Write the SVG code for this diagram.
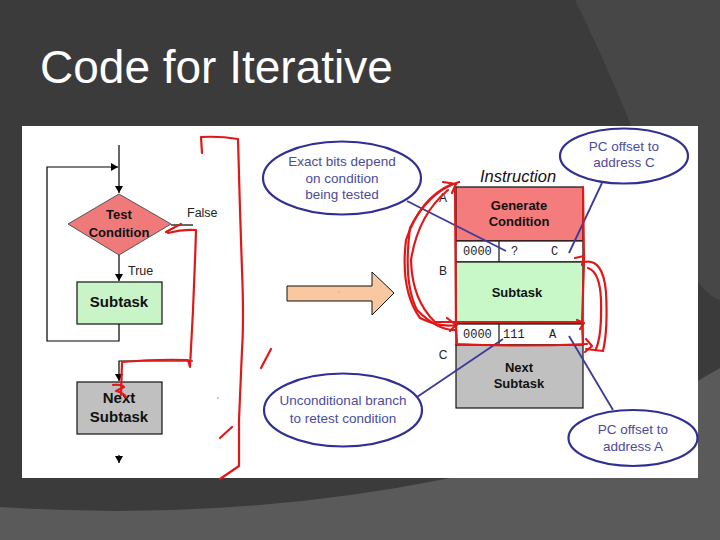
<svg xmlns="http://www.w3.org/2000/svg" width="720" height="540" viewBox="0 0 720 540">
<defs>
<style>
.fl{font-family:"Liberation Sans",Arial,sans-serif;}
.nb{font-family:"Liberation Sans",Arial,sans-serif;font-weight:bold;fill:#111;text-anchor:middle;}
.lab{font-family:"Liberation Sans",Arial,sans-serif;fill:#222;}
.mono{font-family:"Liberation Mono","Courier New",monospace;fill:#222;font-size:12px;}
.line{stroke:#000;stroke-width:1.2;fill:none;}
.box{stroke:#111;stroke-width:1.2;}
.call{stroke:#2f2f94;stroke-width:2.2;fill:#fff;}
.cline{stroke:#3a3a9a;stroke-width:1.8;fill:none;}
.ctext{font-family:"Liberation Sans",Arial,sans-serif;fill:#4b4b9c;font-size:13.5px;text-anchor:middle;}
.red{stroke:#e01818;stroke-width:2.2;fill:none;stroke-linejoin:round;stroke-linecap:round;}
</style>
<marker id="ah" markerWidth="7" markerHeight="8" refX="7" refY="4" orient="auto" markerUnits="userSpaceOnUse">
<path d="M0,0 L7,4 L0,8 Z" fill="#000"/>
</marker>
</defs>

<!-- background -->
<rect width="720" height="540" fill="#3b3b3b"/>
<path d="M575,0 Q615,80 660,200 Q690,290 720,300 L720,0 Z" fill="#474747"/>
<path d="M0,507 Q230,522 445,479 Q600,440 720,368 L720,540 L0,540 Z" fill="#5a5a5a"/>

<text class="fl" x="40" y="83" font-size="46" fill="#fff">Code for Iterative</text>

<!-- white panel -->
<rect x="22" y="126" width="676" height="352" fill="#fff"/>

<!-- flowchart nodes -->
<g id="test-condition">
<polygon points="119,194 171,224 119,255 68,224" fill="#f07a7a" stroke="#555" stroke-width="1"/>
<text class="nb" x="119" y="219" font-size="13">Test</text>
<text class="nb" x="119" y="237" font-size="13">Condition</text>
</g>
<g id="labels-flow">
<text class="lab" x="187" y="217" font-size="12.5">False</text>
<text class="lab" x="128" y="275" font-size="12.5">True</text>
</g>
<g id="subtask">
<rect class="box" x="77" y="282" width="85" height="42" fill="#c8f4c8"/>
<text class="nb" x="119" y="307" font-size="15">Subtask</text>
</g>
<g id="next-subtask">
<rect class="box" x="77" y="382" width="85" height="52" fill="#c0c0c0"/>
<text class="nb" x="119" y="403" font-size="15">Next</text>
<text class="nb" x="119" y="422" font-size="15">Subtask</text>
</g>
<circle cx="218" cy="398" r="0.8" fill="#888"/>

<!-- big orange arrow -->
<g id="orange-arrow">
<path d="M287,286 L372,286 L372,272 L394,293 L372,315 L372,301 L287,301 Z" fill="#fac8a0" stroke="#111" stroke-width="1"/>
<circle cx="339" cy="292" r="0.6" fill="#888"/>
</g>

<!-- instruction table -->
<g id="instruction">
<text class="fl" x="518" y="182" font-size="16.5" font-style="italic" fill="#111" text-anchor="middle">Instruction</text>
<text class="lab" x="443" y="202" font-size="12" text-anchor="middle">A</text>
<text class="lab" x="443" y="275" font-size="12" text-anchor="middle">B</text>
<text class="lab" x="443" y="359" font-size="12" text-anchor="middle">C</text>
<rect x="456" y="187" width="127" height="54" fill="#f47c7c" stroke="#111" stroke-width="1.2"/>
<text class="nb" x="519" y="210" font-size="13">Generate</text>
<text class="nb" x="519" y="226" font-size="13">Condition</text>
<rect x="456" y="241" width="127" height="21" fill="#fff" stroke="#111" stroke-width="1.2"/>
<line x1="499" y1="241" x2="499" y2="262" stroke="#111" stroke-width="1.2"/>
<text class="mono" x="463" y="255">0000</text>
<text class="mono" x="511" y="255">?</text>
<text class="mono" x="551" y="255">C</text>
<rect x="456" y="262" width="127" height="62" fill="#c8f8c8" stroke="#111" stroke-width="1.2"/>
<text class="nb" x="517" y="297" font-size="13">Subtask</text>
<rect x="456" y="324" width="127" height="21" fill="#fff" stroke="#111" stroke-width="1.2"/>
<line x1="499" y1="324" x2="499" y2="345" stroke="#111" stroke-width="1.2"/>
<text class="mono" x="463" y="338">0000</text>
<text class="mono" x="503" y="338">111</text>
<text class="mono" x="549" y="338">A</text>
<rect x="456" y="345" width="127" height="63" fill="#c0c0c0" stroke="#111" stroke-width="1.2"/>
<text class="nb" x="519" y="372" font-size="13">Next</text>
<text class="nb" x="519" y="388" font-size="13">Subtask</text>
</g>

<!-- connectors -->
<g id="connectors">
<path class="line" d="M119,145 L119,193" marker-end="url(#ah)"/>
<path class="line" d="M119,324 L119,341 L47,341 L47,167 L118,167" marker-end="url(#ah)"/>
<path class="line" d="M119,255 L119,281" marker-end="url(#ah)"/>
<path class="line" d="M171,225 L193,225"/>
<path class="line" d="M193,361 L119,361 L119,381" marker-end="url(#ah)"/>
<path class="line" d="M119,455 L119,463" marker-end="url(#ah)"/>
<path class="cline" d="M407,201 L506,251"/>
<path class="cline" d="M602,183 L569,253"/>
<path class="cline" d="M417,397 L503,339"/>
<path class="cline" d="M613,410 L569,336"/>
</g>

<!-- callouts -->
<g id="callout-exact">
<ellipse class="call" cx="342" cy="178" rx="79" ry="36.5"/>
<text class="ctext" x="342" y="166">Exact bits depend</text>
<text class="ctext" x="342" y="183">on condition</text>
<text class="ctext" x="342" y="199">being tested</text>
</g>
<g id="callout-pc-c">
<ellipse class="call" cx="624" cy="156" rx="64" ry="27.5"/>
<text class="ctext" x="624" y="151">PC offset to</text>
<text class="ctext" x="624" y="167">address C</text>
</g>
<g id="callout-uncond">
<ellipse class="call" cx="343" cy="410" rx="79" ry="36.5"/>
<text class="ctext" x="343" y="405">Unconditional branch</text>
<text class="ctext" x="343" y="423">to retest condition</text>
</g>
<g id="callout-pc-a">
<ellipse class="call" cx="633" cy="438" rx="64.5" ry="28"/>
<text class="ctext" x="633" y="434">PC offset to</text>
<text class="ctext" x="633" y="451">address A</text>
</g>

<!-- red hand annotations -->
<g id="annotations">
<path class="red" d="M202,153 L201,137 Q220,136 238,139 Q239,170 240,210 L242,270 Q244,320 242,350 L239,420 L239,466 L220,479"/>
<path class="red" d="M166,232 Q175,227 181,224 M168,233 Q182,229 196,230 Q194,300 190,367 L188,360 Q155,359 122,362 L121,395 M113,385 Q122,384 124,387 L116,391 Q124,393 126,397"/>
<path class="red" d="M232,427 L220,438"/>
<path class="red" d="M271,349 L261,368"/>
<path class="red" d="M452,184 Q420,198 406,240 Q400,290 420,318 Q440,328 457,325"/>
<path class="red" d="M459,182 Q428,192 410,228 Q403,282 417,310 Q438,331 456,330"/>
<path class="red" d="M448,190 Q418,215 411,260 Q412,300 435,322 L458,322"/>
<path class="red" d="M455,186 L456,325 L457,344 Q520,347 587,344"/>
<path class="red" d="M443,182 L456,184 L452,193 M447,318 L456,325 L450,331"/>
<path class="red" d="M583,187 L584,262 L582,324 L583,345"/>
<path class="red" d="M456,322 L582,322"/>
<path class="red" d="M584,262 Q603,258 606,292 Q608,330 603,351 L586,349 M588,268 Q600,272 601,300 Q602,335 596,349"/>
<path class="red" d="M575,258 L584,256 L582,265 M577,320 L584,323 L580,329 M586,339 L592,346 L585,352"/>
</g>
</svg>
